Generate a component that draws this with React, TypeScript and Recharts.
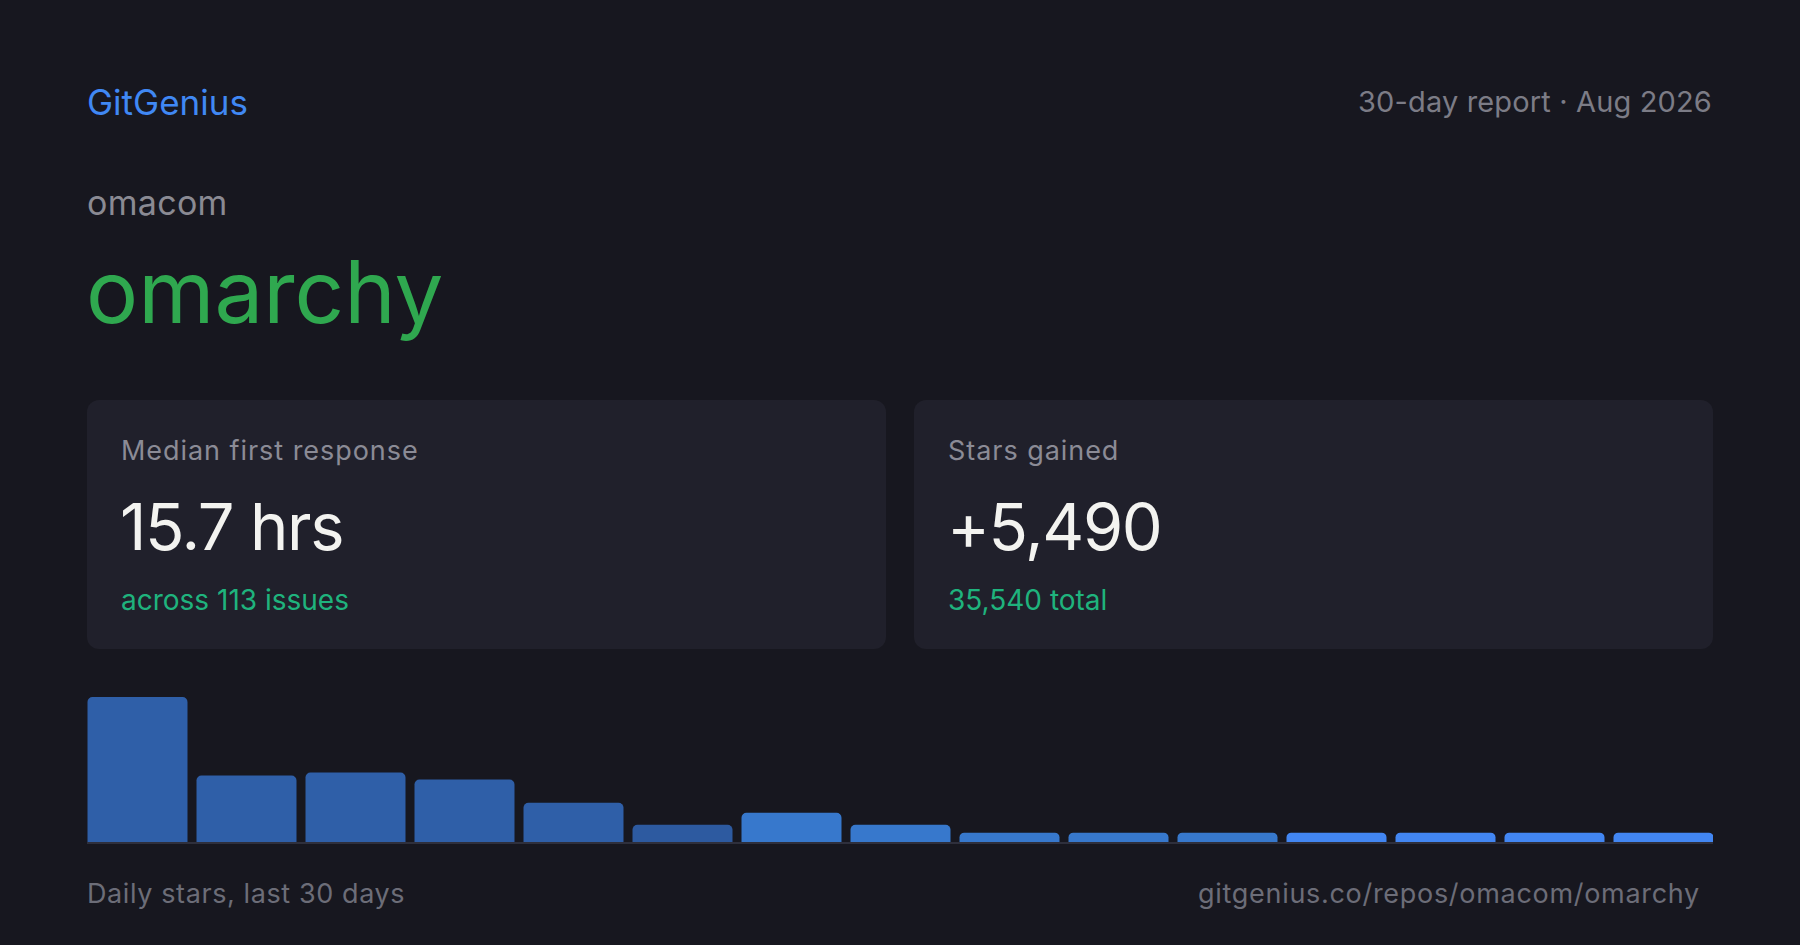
import { BarChart, Bar, XAxis, YAxis, Cell, ReferenceLine } from 'recharts';

// daily stars (one bar per period)
const days = ['d1', 'd2', 'd3', 'd4', 'd5', 'd6', 'd7', 'd8', 'd9', 'd10', 'd11', 'd12', 'd13', 'd14', 'd15'];
const stars = [1555, 713, 745, 670, 421, 184, 313, 184, 100, 100, 100, 100, 100, 100, 100];
const barColors = [
  '#2f5fa8', '#2f5fa8', '#2f5fa8', '#2f5fa8', '#2f5fa8', '#2d5aa0',
  '#3778cc', '#3778cc', '#3778cc', '#3778cc', '#3778cc',
  '#4286f2', '#4286f2', '#4286f2', '#4286f2',
];

const data = days.map((d, i) => ({ day: d, stars: stars[i] }));

const FONT = 'Inter, "Noto Sans", sans-serif';

const txt = (top: number, size: number, color: string, extra: any = {}) => ({
  position: 'absolute' as const,
  top,
  fontSize: size,
  lineHeight: 1,
  color,
  whiteSpace: 'nowrap' as const,
  ...extra,
});

function Card({ left, label, value, sub }: { left: number; label: string; value: string; sub: string }) {
  return (
    <div style={{ position: 'absolute', left, top: 400, width: 799, height: 249, background: '#20202b', borderRadius: 12 }}>
      <div style={txt(37, 27, '#8b8b96', { left: 34, letterSpacing: 0.95 })}>{label}</div>
      <div style={txt(94, 65, '#f3f3f0', { left: 33, letterSpacing: -1.4 })}>{value}</div>
      <div style={txt(186, 28, '#1fb37d', { left: 34 })}>{sub}</div>
    </div>
  );
}

export default function App() {
  return (
    <div style={{ position: 'absolute', left: 0, top: 0, width: 1800, height: 945, background: '#17171f', fontFamily: FONT, overflow: 'hidden' }}>
      <div style={txt(85, 35, '#4088f4', { left: 87 })}>GitGenius</div>
      <div style={txt(87, 29, '#7c7c86', { right: 88, letterSpacing: 0.15 })}>30-day report · Aug 2026</div>
      <div style={txt(186, 34, '#8a8a93', { left: 87, letterSpacing: 0.3 })}>omacom</div>
      <div style={txt(248, 87, '#2fa84f', { left: 86 })}>omarchy</div>

      <Card left={87} label="Median first response" value="15.7 hrs" sub="across 113 issues" />
      <Card left={914} label="Stars gained" value="+5,490" sub="35,540 total" />

      <div style={{ position: 'absolute', left: 87, top: 697 }}>
        <BarChart width={1626} height={148} data={data} margin={{ top: 0, right: -4.5, bottom: 2, left: -4.5 }} barCategoryGap={0}>
          <XAxis dataKey="day" hide />
          <YAxis hide domain={[-11, 1555]} />
          <Bar dataKey="stars" barSize={100} radius={[5, 5, 0, 0]} isAnimationActive={false}>
            {data.map((_, i) => (
              <Cell key={`c-${i}`} fill={barColors[i]} />
            ))}
          </Bar>
          <ReferenceLine y={-10.7} stroke="#2e2f3c" strokeWidth={2} ifOverflow="visible" />
        </BarChart>
      </div>

      <div style={txt(880, 27, '#6c6d78', { left: 87, letterSpacing: 0.6 })}>Daily stars, last 30 days</div>
      <div style={txt(880, 27, '#6c6d78', { right: 100, letterSpacing: 0.7 })}>gitgenius.co/repos/omacom/omarchy</div>
    </div>
  );
}
